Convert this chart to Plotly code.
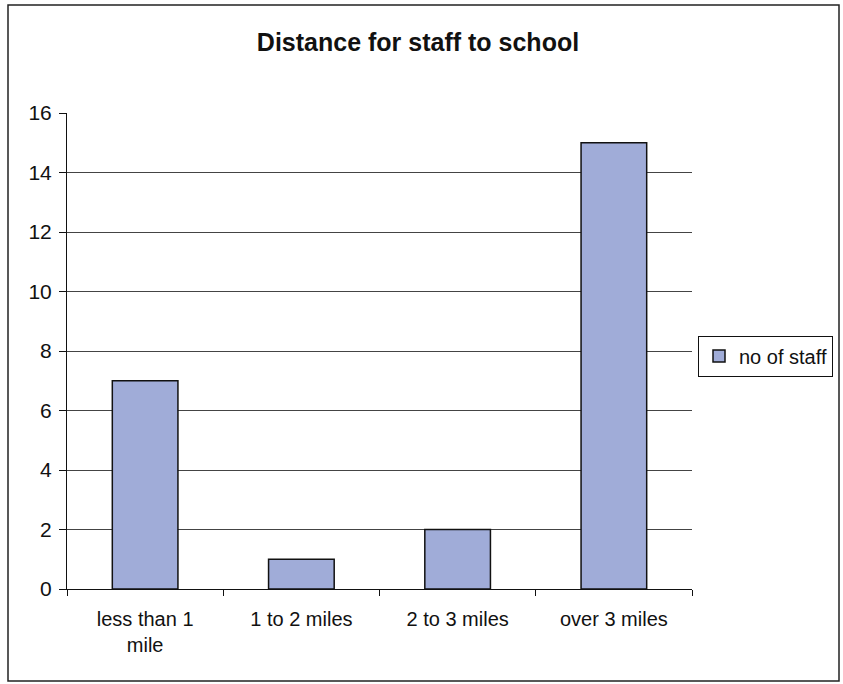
import plotly.graph_objects as go

categories = ["less than 1<br>mile", "1 to 2 miles", "2 to 3 miles", "over 3 miles"]
staff_counts = [7, 1, 2, 15]
series_name = "no of staff"
y_ticks = [0, 2, 4, 6, 8, 10, 12, 14, 16]

L, R, T, B = 67, 692, 113, 589
W, H = 843, 684
pw, ph = R - L, B - T

fig = go.Figure()
fig.add_trace(go.Bar(
    x=categories, y=staff_counts, name=series_name,
    marker=dict(color="#A0ACD8", line=dict(color="#111111", width=1.5)),
    width=0.42,
))

fig.update_layout(
    width=W, height=H,
    margin=dict(l=L, r=W - R, t=T, b=H - B, autoexpand=False),
    paper_bgcolor="white", plot_bgcolor="white",
    font=dict(family="Liberation Sans, Arial, sans-serif", size=21, color="#111111"),
    title=dict(text="<b>Distance for staff to school</b>", x=418 / W, xanchor="center",
               y=1 - 42 / H, yanchor="middle", font=dict(size=25)),
    showlegend=True,
    legend=dict(x=(833 - L) / pw, y=(B - 356) / ph, xanchor="right", yanchor="middle",
                bordercolor="#111111", borderwidth=1, bgcolor="white",
                font=dict(size=20), itemwidth=30),
)
fig.update_yaxes(range=[0, 16], tickvals=y_ticks, showgrid=True, gridcolor="#444444", gridwidth=1,
                 showline=True, linecolor="#111111", linewidth=1, ticks="outside", ticklen=7,
                 tickcolor="#111111", zeroline=False, tickfont=dict(size=21), ticklabelstandoff=3)
fig.update_xaxes(showline=True, linecolor="#111111", linewidth=1, ticks="outside", ticklen=6,
                 tickcolor="#111111", tickson="boundaries", showgrid=False, tickfont=dict(size=20),
                 ticklabelstandoff=12)

fig.add_shape(type="rect", xref="paper", yref="paper",
              x0=(8 - L) / pw, x1=(839 - L) / pw, y0=(B - 681) / ph, y1=(B - 5) / ph,
              line=dict(color="#222222", width=1.5), fillcolor="rgba(0,0,0,0)")

fig.write_html("out.html", config={"displayModeBar": False},
               post_script="document.body.style.margin='0';document.body.style.overflow='hidden';")
